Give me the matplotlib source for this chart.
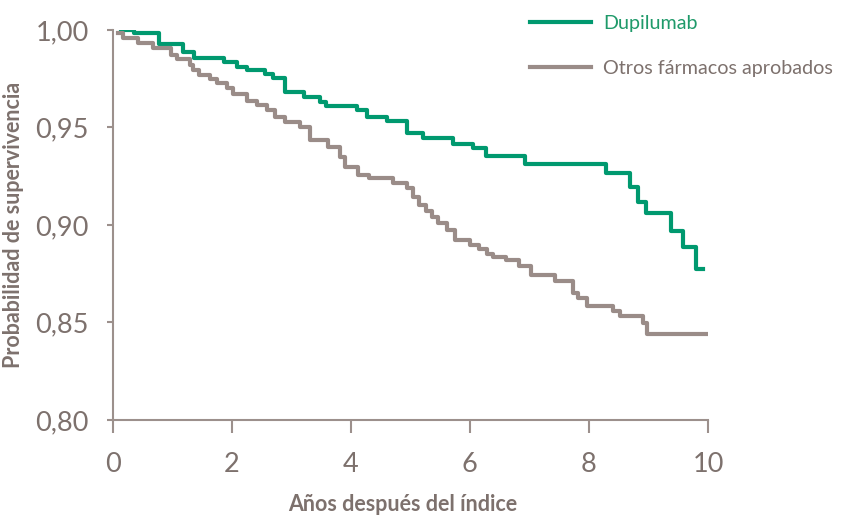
import matplotlib
matplotlib.use("Agg")
import matplotlib.pyplot as plt

plt.rcParams['font.family'] = ['Lato', 'DejaVu Sans']

# Kaplan-Meier steps (years, survival probability)
dupi_t = [0.14, 0.36, 0.78, 1.19, 1.37, 1.87, 2.09, 2.25, 2.56, 2.70, 2.89, 3.21, 3.48,
          3.59, 4.10, 4.27, 4.61, 4.95, 5.22, 5.71, 6.06, 6.27, 6.92, 8.29, 8.69, 8.83,
          8.96, 9.38, 9.58, 9.79, 9.91]
dupi_s = [1.000, 0.9983, 0.9927, 0.9889, 0.9855, 0.9838, 0.9810, 0.9795, 0.9774, 0.9752,
          0.9684, 0.9655, 0.9632, 0.9612, 0.9590, 0.9552, 0.9533, 0.9473, 0.9444, 0.9414,
          0.9393, 0.9354, 0.9313, 0.9265, 0.9197, 0.9120, 0.9060, 0.8969, 0.8885, 0.8774,
          0.8774]

otros_t = [0.10, 0.17, 0.42, 0.68, 0.98, 1.09, 1.30, 1.35, 1.46, 1.64, 1.75, 1.92, 2.02,
           2.25, 2.42, 2.59, 2.73, 2.90, 3.15, 3.31, 3.62, 3.82, 3.90, 4.13, 4.30, 4.71,
           4.94, 5.05, 5.15, 5.27, 5.36, 5.46, 5.62, 5.75, 6.01, 6.16, 6.28, 6.39, 6.61,
           6.83, 7.03, 7.43, 7.73, 7.82, 7.96, 8.40, 8.53, 8.91, 8.97, 10.0]
otros_s = [0.9986, 0.9957, 0.9932, 0.9906, 0.9872, 0.9851, 0.9820, 0.9795, 0.9769, 0.9749,
           0.9727, 0.9700, 0.9672, 0.9637, 0.9615, 0.9590, 0.9552, 0.9530, 0.9501, 0.9436,
           0.9402, 0.9350, 0.9299, 0.9256, 0.9239, 0.9214, 0.9188, 0.9145, 0.9103, 0.9073,
           0.9043, 0.9008, 0.8974, 0.8923, 0.8897, 0.8875, 0.8851, 0.8837, 0.8820, 0.8792,
           0.8744, 0.8715, 0.8650, 0.8624, 0.8585, 0.8559, 0.8533, 0.8496, 0.8439, 0.8439]

xticks = [0, 2, 4, 6, 8, 10]
yticks = [0.80, 0.85, 0.90, 0.95, 1.00]
ytick_labels = ["0,80", "0,85", "0,90", "0,95", "1,00"]

green = "#00996f"
grey = "#9a8c88"
text_grey = "#7d716d"
axis_grey = "#9c908c"

fig = plt.figure(figsize=(8.43, 5.19), dpi=100)
ax = fig.add_axes([0.1335, 0.1908, 0.7064, 0.7514])

ax.step(dupi_t, dupi_s, where='post', color=green, lw=3, label="Dupilumab")
ax.step(otros_t, otros_s, where='post', color=grey, lw=3, label="Otros fármacos aprobados")

ax.set_xlim(0, 10)
ax.set_ylim(0.80, 1.00)
ax.set_xticks(xticks)
ax.set_yticks(yticks)
ax.set_yticklabels(ytick_labels)

for side in ['top', 'right']:
    ax.spines[side].set_visible(False)
for side in ['left', 'bottom']:
    ax.spines[side].set_color(axis_grey)
    ax.spines[side].set_linewidth(1.5)

ax.tick_params(axis='x', length=9, width=1.5, color=axis_grey, pad=14,
               labelsize=19.5, labelcolor=text_grey)
ax.tick_params(axis='y', length=4, width=1.5, color=axis_grey, pad=13,
               labelsize=19.5, labelcolor=text_grey)

ax.set_xlabel("Años después del índice", fontsize=15.5, fontweight='bold',
              color=text_grey)
ax.xaxis.set_label_coords(0.487, -0.19)
ax.set_ylabel("Probabilidad de supervivencia", fontsize=15.5, fontweight='bold',
              color=text_grey)
ax.yaxis.set_label_coords(-0.148, 0.5)

leg = ax.legend(loc='upper left', bbox_to_anchor=(530 / 843, 1 - 15 / 519),
                bbox_transform=fig.transFigure, frameon=False, fontsize=14.2,
                handlelength=3.1, handletextpad=0.6, labelspacing=1.4,
                borderpad=0, borderaxespad=0)
leg.get_texts()[0].set_color("#1f9a6a")
leg.get_texts()[1].set_color(text_grey)

fig.savefig("out.png", dpi=100)
